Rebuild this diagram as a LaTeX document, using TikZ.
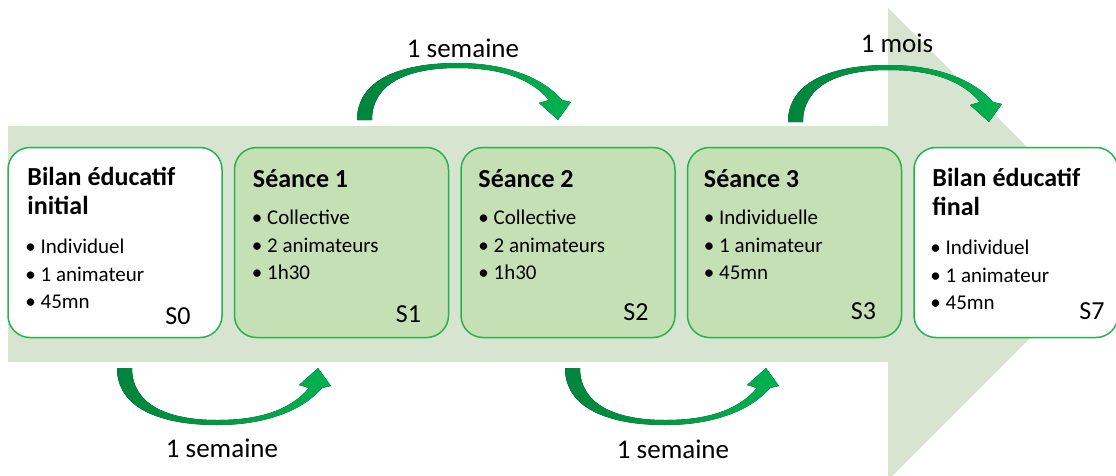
\documentclass[tikz,border=0pt]{standalone}
\usepackage{fontspec}
\setmainfont{Carlito}
\usetikzlibrary{positioning}

\definecolor{fondfleche}{RGB}{215,228,207}
\definecolor{bordvert}{RGB}{38,178,80}
\definecolor{vertpale}{RGB}{197,224,180}
\definecolor{vertfonce}{RGB}{0,132,61}
\definecolor{vertclair}{RGB}{0,178,80}

% lignes alignees sur la premiere ligne de base
\newcommand\lignes[1]{\begin{tabular}[t]{@{}l@{}}#1\end{tabular}}

\begin{document}
\begin{tikzpicture}[x=1pt, y=-1pt, node distance=11pt,
  bloc/.style={draw=bordvert, line width=1.5pt, rounded corners=22pt, minimum width=214pt, minimum height=190pt, inner sep=0pt},
  bilan/.style={bloc, fill=white},
  seance/.style={bloc, fill=vertpale},
  titre/.style={font=\fontsize{26}{29}\selectfont\bfseries, anchor=base west, inner sep=0pt},
  puces/.style={font=\fontsize{21}{27.5}\selectfont, anchor=base west, inner sep=0pt},
  numero/.style={font=\fontsize{26}{30}\selectfont, anchor=base east, inner sep=0pt},
  duree/.style={font=\fontsize{27}{30}\selectfont, anchor=base, inner sep=0pt},
  fleche/.pic={
    \fill[left color=vertfonce, right color=vertclair]
      (0,0) .. controls (0,-40) and (43,-57) .. (100,-57)
      .. controls (153,-57) and (188,-40) .. (205,-20)
      -- (214,-18) -- (201,0) -- (182,-17) -- (192,-20)
      .. controls (173,-42) and (143,-52) .. (100,-52)
      .. controls (48,-52) and (15,-35) .. (15,0) -- cycle;
  }]
  \useasboundingbox (0,0) rectangle (1116,475);
  \clip (0,0) rectangle (1116,475);

  % grande fleche de fond
  \fill[fondfleche] (8,126) -- (888,126) -- (888,8) -- (1124,244) -- (888,480) -- (888,362) -- (8,362) -- cycle;

  % les etapes
  \node [bilan] (b0) at (115,242.5) {};
  \node [seance, right=of b0] (b1) {};
  \node [seance, right=of b1] (b2) {};
  \node [seance, right=of b2] (b3) {};
  \node [bilan, minimum width=204pt, right=of b3] (b4) {};

  \node [titre] (t0) at ([shift={(20,39)}]b0.north west) {\lignes{Bilan éducatif\\initial}};
  \node [titre] (t1) at ([shift={(19,41)}]b1.north west) {Séance 1};
  \node [titre] (t2) at ([shift={(18,41)}]b2.north west) {Séance 2};
  \node [titre] (t3) at ([shift={(17,41)}]b3.north west) {Séance 3};
  \node [titre] (t4) at ([shift={(19,40)}]b4.north west) {\lignes{Bilan éducatif\\final}};

  \node [puces] (p0) at ([shift={(18,107)}]b0.north west) {\lignes{• Individuel\\• 1 animateur\\• 45mn}};
  \node [puces] (p1) at ([shift={(18,78)}]b1.north west) {\lignes{• Collective\\• 2 animateurs\\• 1h30}};
  \node [puces] (p2) at ([shift={(18,78)}]b2.north west) {\lignes{• Collective\\• 2 animateurs\\• 1h30}};
  \node [puces] (p3) at ([shift={(17,78)}]b3.north west) {\lignes{• Individuelle\\• 1 animateur\\• 45mn}};
  \node [puces] (p4) at ([shift={(17,108)}]b4.north west) {\lignes{• Individuel\\• 1 animateur\\• 45mn}};

  \node [numero] (s0) at ([shift={(-32,-14)}]b0.south east) {S0};
  \node [numero] (s1) at ([shift={(-28,-16)}]b1.south east) {S1};
  \node [numero] (s2) at ([shift={(-27,-18)}]b2.south east) {S2};
  \node [numero] (s3) at ([shift={(-26,-19)}]b3.south east) {S3};
  \node [numero] (s7) at ([shift={(-14,-19)}]b4.south east) {S7};

  % fleches courbes et durees
  \pic at (117,368) [yscale=-1] {fleche};
  \pic at (357,120) {fleche};
  \pic at (565,368) [yscale=-1] {fleche};
  \pic at (788,122) {fleche};

  \node [duree] (d1) at (222,457) {1 semaine};
  \node [duree] (d2) at (463,57) {1 semaine};
  \node [duree] (d3) at (673,458) {1 semaine};
  \node [duree] (d4) at (897,52) {1 mois};

\end{tikzpicture}
\end{document}
